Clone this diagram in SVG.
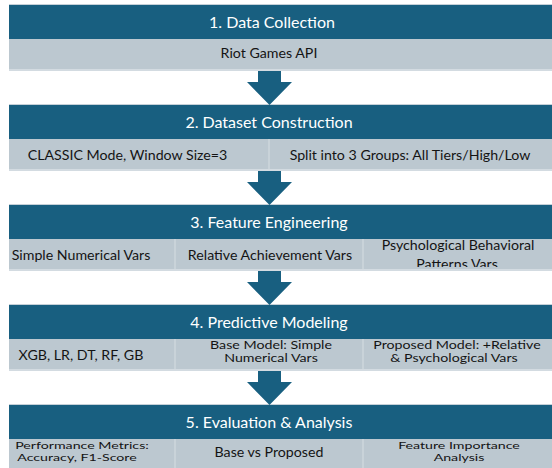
<svg xmlns="http://www.w3.org/2000/svg" width="552" height="468" viewBox="0 0 552 468">
  <style>
    .hdr { fill: #185f80; }
    .band { fill: #bcc8d0; }
    .edge { fill: #d3dbe1; }
    .rim { stroke: #c5d0d8; stroke-width: 1; }
    .div { stroke: #d2dae0; stroke-width: 1.2; }
    .arrow { fill: #185f80; }
    .title { font-family: Lato, "Liberation Sans", sans-serif; font-size: 16px; fill: #ffffff; text-anchor: middle; }
    .item { font-family: Lato, "Liberation Sans", sans-serif; font-size: 14.2px; fill: #141414; text-anchor: middle; }
  </style>
  <defs>
    <clipPath id="clip3"><rect x="9" y="239" width="543" height="28"/></clipPath>
  </defs>
  <rect width="552" height="468" fill="#ffffff"/>

  <!-- 1. Data Collection -->
  <g id="step1">
    <line class="rim" x1="9" y1="4.5" x2="552" y2="4.5"/>
    <rect class="hdr" x="9" y="5" width="543" height="34"/>
    <rect class="band" x="9" y="39" width="543" height="30"/>
    <rect class="edge" x="9" y="69" width="543" height="2"/>
    <text class="title" x="272" y="27.5">1. Data Collection</text>
    <text class="item" x="269" y="57.5">Riot Games API</text>
  </g>

  <!-- 2. Dataset Construction -->
  <g id="step2">
    <line class="rim" x1="9" y1="104.5" x2="552" y2="104.5"/>
    <rect class="hdr" x="9" y="105" width="543" height="34"/>
    <rect class="band" x="9" y="139" width="543" height="30"/>
    <rect class="edge" x="9" y="169" width="543" height="2"/>
    <line class="div" x1="269" y1="139" x2="269" y2="169"/>
    <text class="title" x="269" y="127.5">2. Dataset Construction</text>
    <text class="item" x="127.5" y="159.5">CLASSIC Mode, Window Size=3</text>
    <text class="item" x="410" y="159.5">Split into 3 Groups: All Tiers/High/Low</text>
  </g>

  <!-- 3. Feature Engineering -->
  <g id="step3">
    <line class="rim" x1="9" y1="204.5" x2="552" y2="204.5"/>
    <rect class="hdr" x="9" y="205" width="543" height="34"/>
    <rect class="band" x="9" y="239" width="543" height="30"/>
    <rect class="edge" x="9" y="269" width="543" height="2"/>
    <line class="div" x1="175" y1="239" x2="175" y2="269"/>
    <line class="div" x1="363" y1="239" x2="363" y2="269"/>
    <text class="title" x="269" y="227.5">3. Feature Engineering</text>
    <text class="item" x="81" y="259.5">Simple Numerical Vars</text>
    <text class="item" x="270" y="259.5">Relative Achievement Vars</text>
    <g clip-path="url(#clip3)">
      <text class="item" x="458" y="250">Psychological Behavioral</text>
      <text class="item" x="457" y="269">Patterns Vars</text>
    </g>
  </g>

  <!-- 4. Predictive Modeling -->
  <g id="step4">
    <line class="rim" x1="9" y1="304.5" x2="552" y2="304.5"/>
    <rect class="hdr" x="9" y="305" width="543" height="34"/>
    <rect class="band" x="9" y="339" width="543" height="30"/>
    <rect class="edge" x="9" y="369" width="543" height="2"/>
    <line class="div" x1="175" y1="339" x2="175" y2="369"/>
    <line class="div" x1="363" y1="339" x2="363" y2="369"/>
    <text class="title" x="269" y="327.5">4. Predictive Modeling</text>
    <text class="item" x="81" y="359.5">XGB, LR, DT, RF, GB</text>
    <text class="item" transform="translate(271 348.5) scale(1 0.76)">Base Model: Simple</text>
    <text class="item" transform="translate(271 361.5) scale(1 0.76)">Numerical Vars</text>
    <text class="item" transform="translate(457 348.5) scale(1 0.76)">Proposed Model: +Relative</text>
    <text class="item" transform="translate(454 361.5) scale(1 0.76)">&amp; Psychological Vars</text>
  </g>

  <!-- 5. Evaluation & Analysis -->
  <g id="step5">
    <line class="rim" x1="9" y1="404.5" x2="552" y2="404.5"/>
    <rect class="hdr" x="9" y="405" width="543" height="34"/>
    <rect class="band" x="9" y="439" width="543" height="29"/>
    <line class="div" x1="175" y1="439" x2="175" y2="468"/>
    <line class="div" x1="363" y1="439" x2="363" y2="468"/>
    <text class="title" x="269" y="427.5">5. Evaluation &amp; Analysis</text>
    <text class="item" transform="translate(82 449) scale(1 0.72)">Performance Metrics:</text>
    <text class="item" transform="translate(77 461) scale(1 0.72)">Accuracy, F1-Score</text>
    <text class="item" x="269" y="457">Base vs Proposed</text>
    <text class="item" transform="translate(459 449) scale(1 0.72)">Feature Importance</text>
    <text class="item" transform="translate(459 461) scale(1 0.72)">Analysis</text>
  </g>

  <!-- down arrows between steps -->
  <g id="connectors">
    <polygon class="arrow" points="258,71 281,71 281,82 292,82 269.5,105 247,82 258,82"/>
    <polygon class="arrow" points="258,171 281,171 281,182 292,182 269.5,205 247,182 258,182"/>
    <polygon class="arrow" points="258,271 281,271 281,282 292,282 269.5,305 247,282 258,282"/>
    <polygon class="arrow" points="258,371 281,371 281,382 292,382 269.5,405 247,382 258,382"/>
  </g>
</svg>
